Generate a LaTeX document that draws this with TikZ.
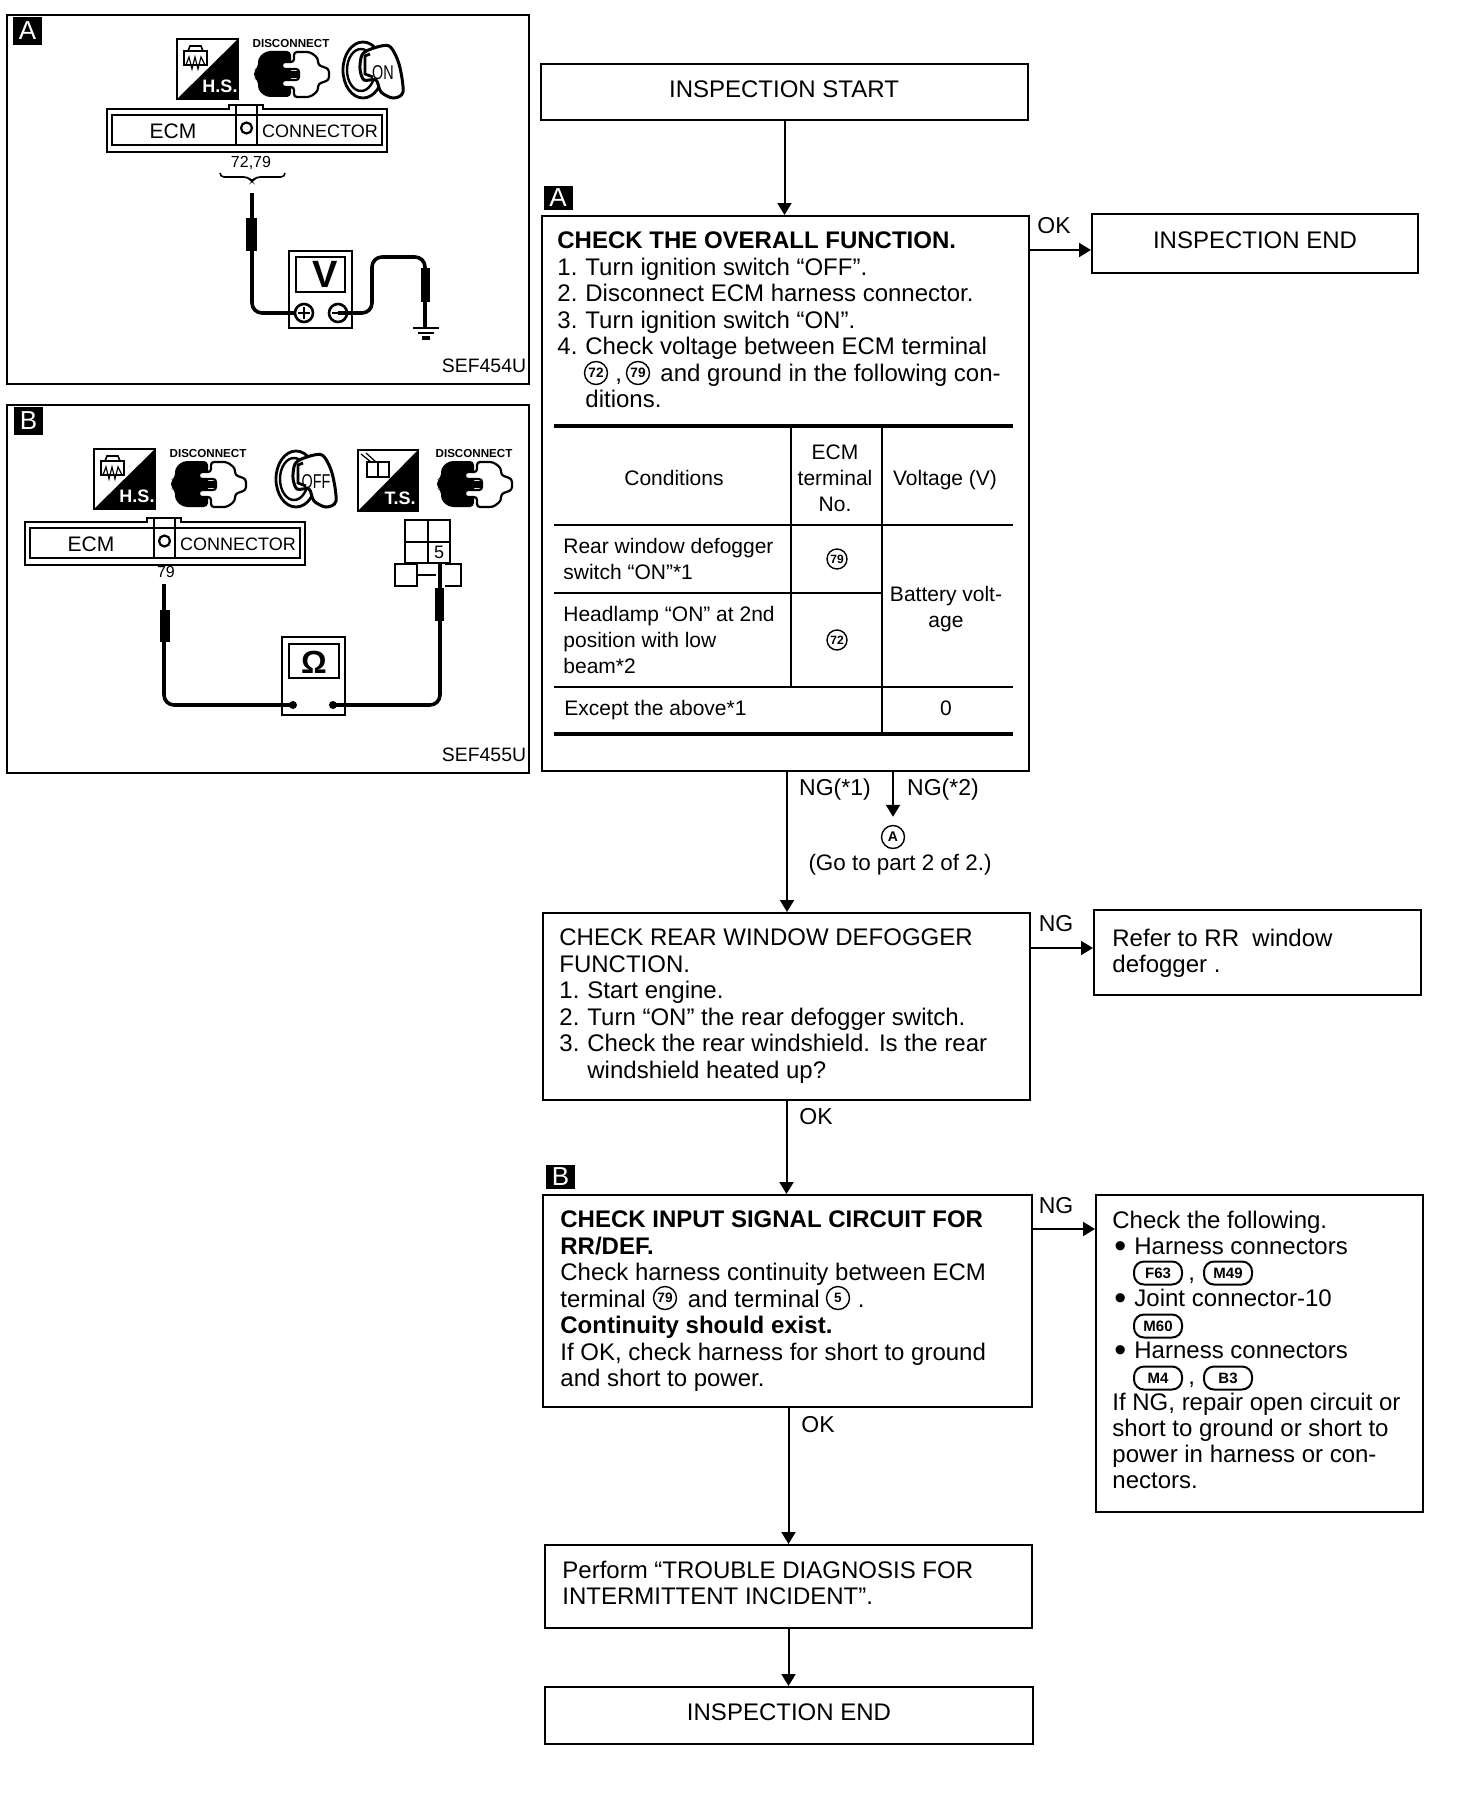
\documentclass[tikz,border=0pt]{standalone}
\usepackage{fontspec}
\setmainfont{Liberation Sans}
\usetikzlibrary{arrows.meta}

\newcommand{\stepno}[1]{\makebox[14pt][l]{#1}}
\newcommand{\dotline}{\makebox[11pt][l]{\hspace{1pt}\raisebox{-1.6pt}[0pt][0pt]{\fontsize{17}{13}\selectfont\textbullet}}}

\tikzset{
    flowbox/.style={draw,line width=1pt,inner sep=0pt,font=\fontsize{12}{13.25}\selectfont},
    flowtext/.style={inner sep=0pt,align=left,anchor=west,font=\fontsize{12}{13.25}\selectfont},
    flowlabel/.style={inner sep=0pt,font=\fontsize{11.5}{13}\selectfont},
    celltext/.style={inner sep=0pt,align=center,font=\fontsize{10.5}{13}\selectfont},
    flow/.style={line width=1pt},
    tablerule/.style={line width=1.8pt},
    tablethin/.style={line width=0.7pt},
    badge/.style={fill=black,text=white,inner sep=0pt,minimum width=14.5pt,minimum height=14pt,font=\fontsize{13}{13}\selectfont},
    termmark/.style={draw,circle,line width=0.7pt,inner sep=0pt,minimum size=10pt,font=\fontsize{6}{6}\bfseries\selectfont},
    terminline/.style={termmark,minimum size=11.5pt,font=\fontsize{6.8}{7}\bfseries\selectfont},
    connmark/.style={draw,rounded corners=5pt,line width=1pt,inner sep=0pt,minimum width=24pt,minimum height=11.5pt,font=\fontsize{7.5}{8}\bfseries\selectfont},
    panelframe/.style={line width=1pt},
    panelcode/.style={inner sep=0pt,font=\fontsize{9.7}{10}\selectfont},
    wire/.style={line width=1.8pt,rounded corners=5pt},
    probeline/.style={line width=1.6pt},
    meterline/.style={line width=1.4pt},
    % side icon frames
    hsicon/.pic={
        \draw[line width=1.2pt] (0,0) rectangle (61,60);
        \fill (61,0) -- (61,60) -- (0,60) -- cycle;
        \draw[line width=0.8pt] (7,12) rectangle (30,26);
        \draw[line width=0.8pt] (11,12) -- (13,7) -- (24,7) -- (26,12);
        \draw[line width=0.6pt] (9,26) -- (12,18) -- (15,30) -- (18,18) -- (21,30) -- (24,18) -- (28,26);
        \node[text=white,inner sep=0pt,font=\fontsize{9}{9}\bfseries\selectfont] (-code) at (43,47) {\tikzpictext};
    },
    tsicon/.pic={
        \draw[line width=1.2pt] (0,0) rectangle (60,61);
        \fill (60,0) -- (60,61) -- (0,61) -- cycle;
        \draw[line width=0.8pt] (9,12) rectangle (31,27);
        \draw[line width=0.8pt] (20,12) -- (20,27);
        \draw[line width=0.6pt] (3,4) -- (13,12) (8,3) -- (18,12);
        \node[text=white,inner sep=0pt,font=\fontsize{9}{9}\bfseries\selectfont] (-code) at (42,48) {\tikzpictext};
    },
    plugicon/.pic={
        \fill[rounded corners=2pt] (12,1) -- (37,1) -- (37,47) -- (12,47) -- (4,40) -- (4,30) -- (0,28) -- (0,20) -- (4,18) -- (4,8) -- cycle;
        \draw[line width=1.1pt,fill=white,rounded corners=1.5pt] (40,2) -- (56,2) -- (64,8) -- (64,15) -- (75,19) -- (75,30) -- (64,34) -- (64,41) -- (56,47) -- (40,47) -- (40,37) -- (28,37) -- (28,30) -- (45,30) -- (45,19) -- (28,19) -- (28,12) -- (40,12) -- cycle;
        \fill (30,21) rectangle (44,28);
        \node[inner sep=0pt,font=\fontsize{5.8}{6}\bfseries\selectfont] (-word) at (37,-6) {DISCONNECT};
    },
    keyicon/.pic={
        \draw[line width=1.4pt] (20,28) ellipse (20 and 28);
        \draw[line width=1.2pt] (18,28) ellipse (14 and 21);
        \draw[line width=1.5pt,fill=white] plot[smooth cycle] coordinates {(19,13) (28,7) (46,4) (56,22) (60,50) (50,56) (38,50) (33,38) (21,38) (17,27)};
        \draw[line width=1.4pt] (27,12) -- (22,14) -- (22,32) -- (30,35);
        \node[inner sep=0pt,xscale=0.72,font=\fontsize{10}{10}\selectfont] (-state) at (40,31) {\tikzpictext};
    },
    ecmbar/.pic={
        \draw[line width=1.3pt] (0,0) -- (122,0) -- (122,-4) -- (156,-4) -- (156,0) -- (280,0) -- (280,43) -- (0,43) -- cycle;
        \draw[line width=1.3pt] (5,6) rectangle (275,36);
        \draw[line width=1.3pt] (129,-3) -- (129,36) (150,-3) -- (150,36);
        \draw[line width=1.1pt] (139.5,19) circle (5.5);
        \node[inner sep=0pt,font=\fontsize{10.5}{10}\selectfont] (-maker) at (66,22) {ECM};
        \node[inner sep=0pt,font=\fontsize{9}{10}\selectfont] (-part) at (213,22) {CONNECTOR};
    },
}

\begin{document}
\begin{tikzpicture}[x=0.5pt,y=-0.5pt,>={Triangle[length=6pt,width=7pt]}]
    \useasboundingbox (0,0) rectangle (1456,1814);

    % panel A
    \draw[panelframe] (7,15) rectangle (529,384);
    \node[badge] (panela) at (27.5,31) {A};
    \pic[pic text={H.S.}] (hsa) at (177,39) {hsicon};
    \pic (pluga) at (254,50) {plugicon};
    \pic[pic text={ON}] (keya) at (343,42) {keyicon};
    \pic (ecma) at (107,109) {ecmbar};
    \node[inner sep=0pt,font=\fontsize{8}{9}\selectfont] (pinsa) at (251,163) {72,79};
    \draw[line width=0.8pt,rounded corners=2pt] (220,173) -- (220,177) -- (248,177) -- (252,182) -- (256,177) -- (285,177) -- (285,173);
    % meter A
    \draw[meterline] (289,251) rectangle (352,328);
    \draw[meterline] (296,257) rectangle (345,292);
    \node[inner sep=0pt,font=\fontsize{19}{19}\bfseries\selectfont] (volts) at (325,274) {V};
    \draw[probeline] (252,193) -- (252,218);
    \fill (246,218) rectangle (257,251);
    \draw[wire] (252,251) -- (252,313) -- (295,313);
    \draw[wire] (338,313) -- (372,313) -- (372,257) -- (425,257) -- (425,268);
    \fill (421,268) rectangle (430,302);
    \draw[probeline] (425,302) -- (425,328);
    \draw[line width=1.3pt,fill=white] (304,313) circle (9);
    \draw[line width=1.3pt] (338,313) circle (9);
    \draw[line width=1.2pt] (298,313) -- (310,313) (304,307) -- (304,319) (332,313) -- (344,313);
    \draw[line width=1.4pt] (413,328) -- (439,328);
    \draw[line width=1.4pt] (418,333) -- (434,333);
    \draw[line width=1.6pt] (422,338) -- (430,338);
    \node[panelcode] (codea) at (484,366) {SEF454U};

    % panel B
    \draw[panelframe] (7,405) rectangle (529,773);
    \node[badge] (panelb) at (28.5,421) {B};
    \pic[pic text={H.S.}] (hsb) at (94,449) {hsicon};
    \pic (plugb) at (171,460) {plugicon};
    \pic[pic text={OFF}] (keyb) at (276,451) {keyicon};
    \pic[pic text={T.S.}] (tsb) at (358,450) {tsicon};
    \pic (plugc) at (437,460) {plugicon};
    \pic (ecmb) at (25,522) {ecmbar};
    \node[inner sep=0pt,font=\fontsize{8}{9}\selectfont] (pinb) at (166,572) {79};
    % harness connector of panel B
    \draw[line width=1pt] (405,520) rectangle (450,563);
    \draw[line width=1pt] (428,520) -- (428,563) (405,542) -- (450,542);
    \draw[line width=1pt] (395,564) rectangle (417,586);
    \draw[line width=1pt] (445,564) -- (461,564) -- (461,586) -- (445,586);
    \draw[line width=1pt] (417,575) -- (436,575);
    \node[inner sep=0pt,fill=white,font=\fontsize{9}{10}\selectfont] (pinc) at (439,552) {5};
    % meter B
    \draw[meterline] (282,637) rectangle (345,715);
    \draw[meterline] (289,644) rectangle (339,678);
    \node[inner sep=0pt,font=\fontsize{16}{16}\bfseries\selectfont] (ohms) at (314,662) {Ω};
    \draw[probeline] (164,584) -- (164,610);
    \fill (160,610) rectangle (170,642);
    \draw[wire] (164,642) -- (164,705) -- (293,705);
    \draw[wire] (333,705) -- (440,705) -- (440,621);
    \fill (435,588) rectangle (444,621);
    \draw[probeline] (440,563) -- (440,588);
    \fill (293,705) circle (4) (333,705) circle (4);
    \node[panelcode] (codeb) at (484,755) {SEF455U};

    % flow chart boxes
    \node[flowbox,minimum width=243.5pt,minimum height=28pt] (start) at (784.5,92) {};
    \node[flowtext,anchor=center] (starttext) at (784,89) {INSPECTION START};
    \node[badge,minimum height=12pt] (marka) at (558,198) {A};
    \node[flowbox,minimum width=243.5pt,minimum height=277.5pt] (overall) at (785,493.5) {};
    \node[flowbox,minimum width=163pt,minimum height=29.5pt] (endtop) at (1255,243.5) {};
    \node[flowtext,anchor=center] (endtoptext) at (1255,240) {INSPECTION END};
    \node[flowbox,minimum width=243.5pt,minimum height=93.5pt] (rearcheck) at (786.5,1006.5) {};
    \node[flowbox,minimum width=163.5pt,minimum height=42.5pt] (refer) at (1257.5,952.5) {};
    \node[badge,minimum height=12pt] (markb) at (560.5,1177) {B};
    \node[flowbox,minimum width=244.5pt,minimum height=106pt] (inputcheck) at (787,1301) {};
    \node[flowbox,minimum width=163.5pt,minimum height=158.5pt] (following) at (1259.5,1353.5) {};
    \node[flowbox,minimum width=243.5pt,minimum height=41.5pt] (perform) at (788.5,1586.5) {};
    \node[flowbox,minimum width=244pt,minimum height=28.5pt] (endlow) at (789,1715.5) {};
    \node[flowtext,anchor=center] (endlowtext) at (789,1712) {INSPECTION END};

    % box texts
    \node[flowtext] (overalltext) at (557,320) {\textbf{CHECK THE OVERALL FUNCTION.}\\
        \stepno{1.}Turn ignition switch “OFF”.\\
        \stepno{2.}Disconnect ECM harness connector.\\
        \stepno{3.}Turn ignition switch “ON”.\\
        \stepno{4.}Check voltage between ECM terminal\\
        \hspace*{29pt},\hspace{19.2pt}and ground in the following con-\\
        \stepno{}ditions.};
    \node[terminline] (termseventytwo) at (596,373) {72};
    \node[terminline] (termseventynine) at (638,373) {79};

    % table
    \draw[tablerule] (554,426) -- (1013,426);
    \draw[tablethin] (554,525) -- (1013,525);
    \draw[tablethin] (554,593) -- (882,593);
    \draw[tablethin] (554,687) -- (1013,687);
    \draw[tablerule] (554,734) -- (1013,734);
    \draw[line width=1pt] (791,426) -- (791,687);
    \draw[line width=1.2pt] (882,426) -- (882,734);
    \node[celltext] (condhead) at (674,478) {Conditions};
    \node[celltext] (termhead) at (835,478) {ECM\\terminal\\No.};
    \node[celltext] (volthead) at (945,480) {Voltage (V)};
    \node[celltext,align=left,anchor=west] (rearcond) at (563,559) {Rear window defogger\\switch “ON”*1};
    \node[celltext,align=left,anchor=west] (lampcond) at (563,640) {Headlamp “ON” at 2nd\\position with low\\beam*2};
    \node[celltext,align=left,anchor=west] (exceptcond) at (564,710) {Except the above*1};
    \node[termmark] (rearterm) at (837,559) {79};
    \node[termmark] (lampterm) at (837,640) {72};
    \node[celltext] (battvolt) at (946,609) {Battery volt-\\age};
    \node[celltext] (zerovolt) at (946,708) {0};

    \node[flowtext] (reartext) at (559,1006) {CHECK REAR WINDOW DEFOGGER\\
        FUNCTION.\\
        \stepno{1.}Start engine.\\
        \stepno{2.}Turn “ON” the rear defogger switch.\\
        \stepno{3.}Check the rear windshield. Is the rear\\
        \stepno{}windshield heated up?};
    \node[flowtext] (refertext) at (1112,953.5) {Refer to RR\ \ window\\defogger .};
    \node[flowtext] (inputtext) at (560,1301.5) {\textbf{CHECK INPUT SIGNAL CIRCUIT FOR}\\
        \textbf{RR/DEF.}\\
        Check harness continuity between ECM\\
        terminal\hspace{21pt}and terminal\hspace{19pt}.\\
        \textbf{Continuity should exist.}\\
        If OK, check harness for short to ground\\
        and short to power.};
    \node[terminline] (inputpin) at (665,1298) {79};
    \node[terminline] (inputterm) at (838,1298) {5};
    \node[flowtext,font=\fontsize{12}{13}\selectfont] (followtext) at (1112,1349.5) {Check the following.\\
        \dotline Harness connectors\\
        \hspace*{38pt},\\
        \dotline Joint connector-10\\
        \mbox{}\\
        \dotline Harness connectors\\
        \hspace*{38pt},\\
        If NG, repair open circuit or\\
        short to ground or short to\\
        power in harness or con-\\
        nectors.};
    \node[connmark] (conf) at (1158,1273) {F63};
    \node[connmark] (conm) at (1228,1273) {M49};
    \node[connmark] (conj) at (1158,1326) {M60};
    \node[connmark] (conn) at (1158,1378) {M4};
    \node[connmark] (conb) at (1228,1378) {B3};
    \node[flowtext] (performtext) at (562,1583) {Perform “TROUBLE DIAGNOSIS FOR\\INTERMITTENT INCIDENT”.};

    % outgoing points of the long boxes
    \coordinate (okout) at (1028,250);
    \coordinate (ngone) at (787,771);
    \coordinate (ngtwo) at (893,771);
    \coordinate (ngrefer) at (1029,948);
    \coordinate (nginput) at (1031,1229);

    % connectors
    \draw[flow,->] (start.south) -- (start.south |- overall.north);
    \draw[flow,->] (okout) -- (okout -| endtop.west);
    \draw[flow,->] (ngone) -- (ngone |- rearcheck.north);
    \node[termmark,minimum size=11.5pt,font=\fontsize{7}{7}\bfseries\selectfont] (parttwo) at (893,837) {A};
    \draw[flow,->,shorten >=4pt] (ngtwo) -- (parttwo.north);
    \draw[flow,->] (ngrefer) -- (ngrefer -| refer.west);
    \draw[flow,->] (rearcheck.south) -- (rearcheck.south |- inputcheck.north);
    \draw[flow,->] (nginput) -- (nginput -| following.west);
    \draw[flow,->] (perform.north |- inputcheck.south) -- (perform.north);
    \draw[flow,->] (perform.south) -- (perform.south |- endlow.north);

    % connector labels
    \node[flowlabel] (okend) at (1054,226) {OK};
    \node[flowlabel] (ngfirst) at (835,790) {NG(*1)};
    \node[flowlabel] (ngsecond) at (943,790) {NG(*2)};
    \node[inner sep=0pt,font=\fontsize{11.2}{13}\selectfont] (gopart) at (900,865) {(Go to part 2 of 2.)};
    \node[flowlabel] (ngdefog) at (1056,924) {NG};
    \node[flowlabel] (okdefog) at (816,1117) {OK};
    \node[flowlabel] (nginputlabel) at (1056,1206) {NG};
    \node[flowlabel] (okinput) at (818,1425) {OK};
\end{tikzpicture}
\end{document}
